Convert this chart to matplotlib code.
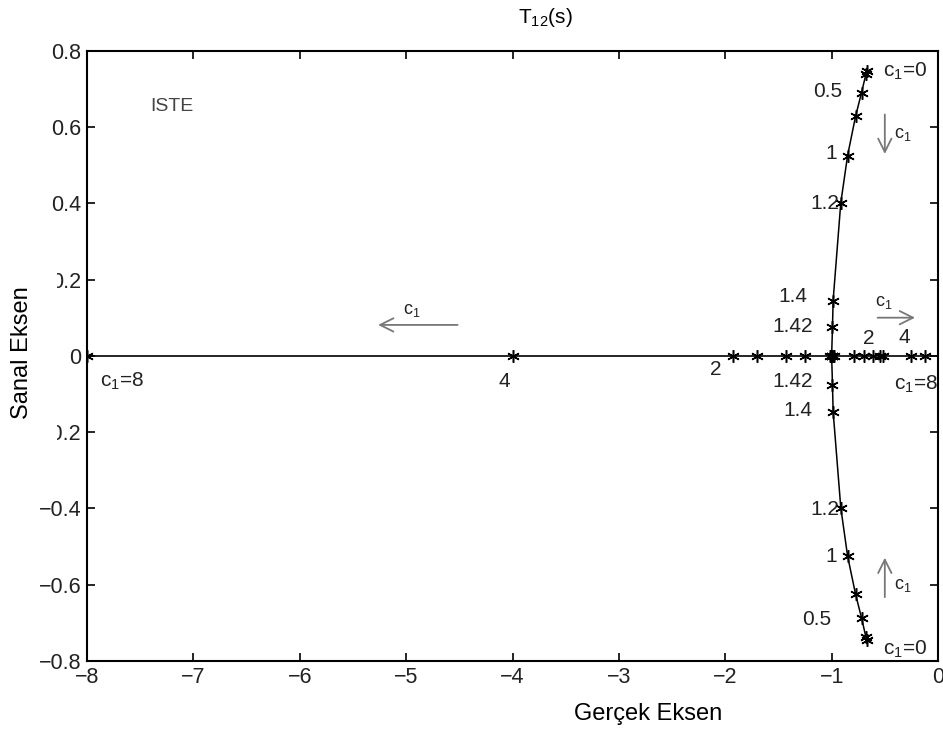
import numpy as np
import matplotlib.pyplot as plt
from matplotlib.patches import Rectangle

plt.rcParams['font.family'] = ['Liberation Sans', 'DejaVu Sans']
plt.rcParams['mathtext.fontset'] = 'custom'
plt.rcParams['mathtext.rm'] = 'Liberation Sans'
plt.rcParams['mathtext.it'] = 'Liberation Sans:italic'

# complex branch of the locus (c1 = 0 ... 1.42)
upper_re = [-0.672, -0.678, -0.719, -0.775, -0.850, -0.914, -0.986, -0.992, -1.0]
upper_im = [0.746, 0.738, 0.690, 0.628, 0.525, 0.401, 0.145, 0.075, 0.0]
lower_re = [-0.672, -0.678, -0.719, -0.775, -0.850, -0.914, -0.986, -0.992, -1.0]
lower_im = [-0.745, -0.737, -0.687, -0.625, -0.525, -0.398, -0.146, -0.076, 0.0]

# real branch (c1 > 1.42)
left_re = [-1.0, -1.02, -1.25, -1.43, -1.70, -1.93, -4.0, -8.0]
right_re = [-1.0, -0.98, -0.79, -0.70, -0.61, -0.547, -0.516, -0.25, -0.12]

x_ticks = [-8, -7, -6, -5, -4, -3, -2, -1, 0]
y_ticks = [-0.8, -0.6, -0.4, -0.2, 0, 0.2, 0.4, 0.6, 0.8]
y_ticklabels = ['\u22120.8', '\u22120.6', '\u22120.4', '\u22120.2', '0', '0.2', '0.4', '0.6', '0.8']

star = (6, 2, 0)
txt = '#222222'
arr = '#777777'
c1 = r'c$_\mathregular{1}$'

fig = plt.figure(figsize=(9.43, 7.4), dpi=100)
ax = fig.add_axes([0.0923, 0.1068, 0.9024, 0.8247])

ax.axhline(0, color='black', lw=1.2, zorder=1)
ax.plot(upper_re, upper_im, color='black', lw=1.1, marker=star, ms=9, mew=1.1)
ax.plot(lower_re, lower_im, color='black', lw=1.1, marker=star, ms=9, mew=1.1)
ax.plot(left_re, np.zeros(len(left_re)), ls='none', color='black', marker=star, ms=9, mew=1.1)
ax.plot(right_re, np.zeros(len(right_re)), ls='none', color='black', marker=star, ms=9, mew=1.1)

ax.set_xlim(-8, 0)
ax.set_ylim(-0.8, 0.8)
ax.set_xticks(x_ticks)
ax.set_xticklabels(['\u2212%d' % -v if v else '0' for v in x_ticks])
ax.set_yticks(y_ticks)
ax.set_yticklabels(y_ticklabels)
ax.tick_params(direction='in', length=6, width=1.2, labelsize=15.5, top=True, right=True,
               labelcolor='#222222', pad=4)
for s in ax.spines.values():
    s.set_linewidth(1.5)

fs = 15
cs = 13
ax.text(-7.20, 0.654, 'ISTE', fontsize=14, color='#444444', ha='center', va='center')

# upper branch labels
ax.text(-0.52, 0.747, c1 + '=0', fontsize=fs, color=txt, ha='left', va='center')
ax.text(-0.90, 0.694, '0.5', fontsize=fs, color=txt, ha='right', va='center')
ax.text(-0.95, 0.53, '1', fontsize=fs, color=txt, ha='right', va='center')
ax.text(-0.93, 0.40, '1.2', fontsize=fs, color=txt, ha='right', va='center')
ax.text(-1.224, 0.156, '1.4', fontsize=fs, color=txt, ha='right', va='center')
ax.text(-1.177, 0.077, '1.42', fontsize=fs, color=txt, ha='right', va='center')
ax.annotate('', xy=(-0.50, 0.522), xytext=(-0.50, 0.64),
            arrowprops=dict(arrowstyle='->', color=arr, lw=1.3, mutation_scale=24))
ax.text(-0.41, 0.58, c1, fontsize=cs, color=txt, ha='left', va='center')

# lower branch labels
ax.text(-0.52, -0.770, c1 + '=0', fontsize=fs, color=txt, ha='left', va='center')
ax.text(-1.0, -0.692, '0.5', fontsize=fs, color=txt, ha='right', va='center')
ax.text(-0.95, -0.526, '1', fontsize=fs, color=txt, ha='right', va='center')
ax.text(-0.93, -0.403, '1.2', fontsize=fs, color=txt, ha='right', va='center')
ax.text(-1.177, -0.143, '1.4', fontsize=fs, color=txt, ha='right', va='center')
ax.text(-1.177, -0.067, '1.42', fontsize=fs, color=txt, ha='right', va='center')
ax.annotate('', xy=(-0.50, -0.522), xytext=(-0.50, -0.64),
            arrowprops=dict(arrowstyle='->', color=arr, lw=1.3, mutation_scale=24))
ax.text(-0.41, -0.602, c1, fontsize=cs, color=txt, ha='left', va='center')

# real axis labels
ax.text(-0.65, 0.046, '2', fontsize=fs, color=txt, ha='center', va='center')
ax.text(-0.32, 0.047, '4', fontsize=fs, color=txt, ha='center', va='center')
ax.text(-0.41, -0.076, c1 + '=8', fontsize=fs, color=txt, ha='left', va='center', clip_on=True)
ax.annotate('', xy=(-0.19, 0.10), xytext=(-0.594, 0.10),
            arrowprops=dict(arrowstyle='->', color=arr, lw=1.3, mutation_scale=24))
ax.text(-0.594, 0.14, c1, fontsize=cs, color=txt, ha='left', va='center')
ax.text(-2.09, -0.035, '2', fontsize=fs, color=txt, ha='center', va='center')
ax.text(-4.08, -0.068, '4', fontsize=fs, color=txt, ha='center', va='center')
ax.text(-7.88, -0.067, c1 + '=8', fontsize=fs, color=txt, ha='left', va='center')
ax.annotate('', xy=(-5.29, 0.081), xytext=(-4.49, 0.081),
            arrowprops=dict(arrowstyle='->', color=arr, lw=1.3, mutation_scale=24))
ax.text(-5.03, 0.118, c1, fontsize=cs, color=txt, ha='left', va='center')

# title and axis labels
fig.text(0.578, 0.976, r'T$_\mathregular{12}$(s)', fontsize=15, ha='center', va='center')
fig.text(0.687, 0.035, 'Gerçek Eksen', fontsize=17, ha='center', va='center')
fig.patches.append(Rectangle((0, (740 - 447) / 740), 57 / 943, 182 / 740,
                             transform=fig.transFigure, facecolor='white',
                             edgecolor='none', zorder=5))
fig.text(0.023, 0.523, 'Sanal Eksen', fontsize=17, rotation=90, ha='center', va='center', zorder=6)

fig.savefig('out.png', dpi=100)
